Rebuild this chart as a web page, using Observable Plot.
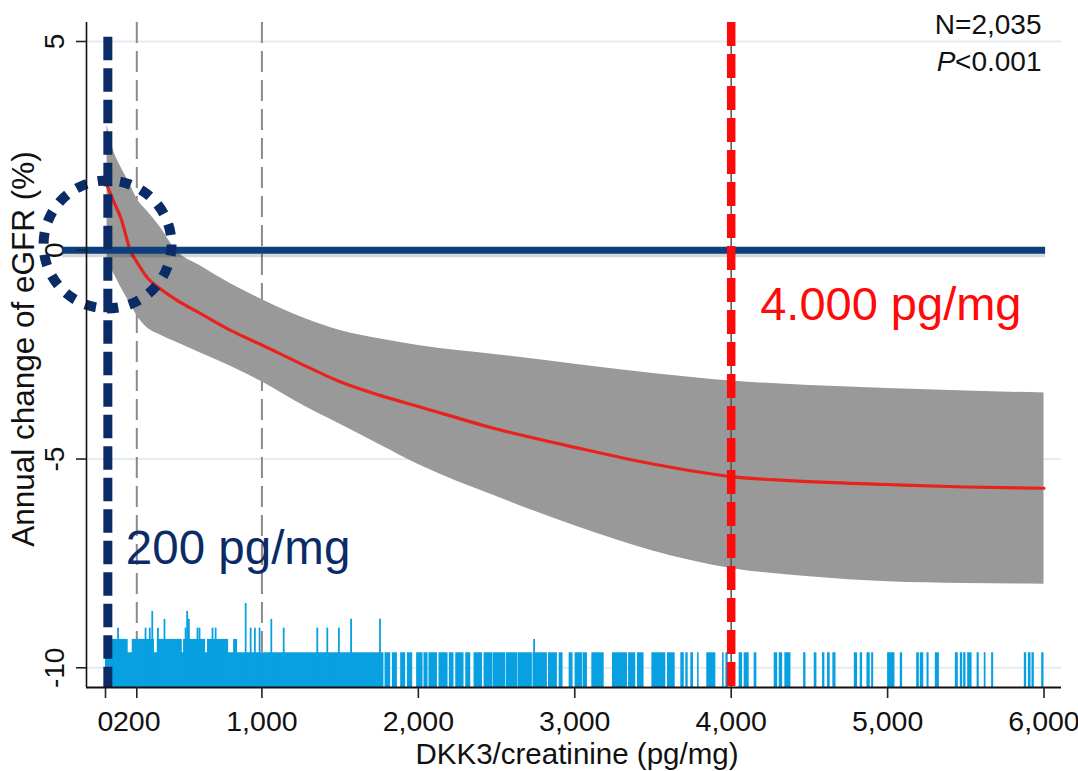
<!DOCTYPE html>
<html>
<head>
<meta charset="utf-8">
<script src="https://cdn.jsdelivr.net/npm/d3@7"></script>
<script src="https://cdn.jsdelivr.net/npm/@observablehq/plot@0.6"></script>
<style>
  html, body { margin: 0; padding: 0; background: #fff; }
  #chart svg { display: block; }
</style>
</head>
<body>
<div id="chart"></div>
<script>
// Restricted cubic spline: annual eGFR change (%) by urinary DKK3/creatinine (pg/mg)
const dkk3 = [10, 50, 100, 160, 200, 270, 350, 450, 600, 800, 1000, 1250, 1500, 1750, 2000, 2500, 3000, 3500, 4000, 4500, 5000, 5500, 6000];
const egfrChange = [1.55, 1.19, 0.75, -0.02, -0.28, -0.67, -0.92, -1.18, -1.50, -1.92, -2.27, -2.72, -3.15, -3.47, -3.74, -4.28, -4.72, -5.12, -5.42, -5.54, -5.61, -5.67, -5.70];
const ciUpper = [3.0, 2.4, 1.98, 1.55, 1.24, 0.92, 0.55, 0.0, -0.36, -0.80, -1.18, -1.60, -1.92, -2.12, -2.28, -2.50, -2.73, -2.95, -3.13, -3.24, -3.31, -3.37, -3.42];
const ciLower = [-0.25, -0.53, -0.90, -1.30, -1.56, -1.87, -2.03, -2.20, -2.45, -2.78, -3.15, -3.69, -4.17, -4.65, -5.13, -5.90, -6.60, -7.20, -7.62, -7.82, -7.94, -7.98, -8.00];

// Rug of individual DKK3/creatinine values: runs where ticks merge, second row, taller stacks
const rugRuns = [[0,1780],[1787,1823],[1834,1866],[1887,1919],[1930,1964],[1989,2030],[2036,2062],[2068,2122],[2132,2190],[2198,2228],[2239,2292],[2303,2335],[2356,2410],[2420,2474],[2477,2559],[2563,2634],[2637,2729],[2733,2825],[2832,2889],[2900,2925],[2964,2989],[3002,3049],[3053,3081],[3109,3188],[3241,3337],[3344,3390],[3401,3443],[3493,3582],[3593,3642],[3678,3700],[3710,3725],[3742,3759],[3785,3795],[3844,3902],[3945,3955],[3966,3981],[4051,4073],[4083,4115],[4147,4164],[4275,4297],[4307,4329],[4343,4382],[4463,4478],[4531,4548],[4584,4599],[4616,4633],[4650,4670],[4787,4808],[4825,4840],[4868,4889],[4898,4911],[5000,5047],[5081,5096],[5186,5203],[5209,5231],[5252,5265],[5305,5331],[5433,5452],[5465,5480],[5486,5501],[5512,5540],[5572,5586],[5618,5629],[5665,5678],[5874,5889],[5900,5917],[5923,5938],[5985,6000]];
const rugRow2 = [[0,145],[171,313],[331,491],[499,640],[652,787],[819,844]];
const rugStacks = [[80,-9.05],[256,-9.05],[283,-9.05],[299,-8.65],[335,-9.05],[377,-8.84],[512,-9.05],[522,-8.65],[533,-8.84],[588,-9.05],[601,-9.05],[684,-9.05],[704,-9.05],[896,-8.46],[928,-9.05],[955,-9.05],[985,-9.05],[1060,-8.84],[1139,-9.05],[1354,-9.05],[1418,-9.05],[1492,-9.05],[1570,-8.84],[1755,-8.84],[2740,-9.32]];
const rugTop = -9.64, rugRow2Top = -9.32;

// Axes
const xTicks = [0, 200, 1000, 2000, 3000, 4000, 5000, 6000];
const yTicks = [5, 0, -5, -10];
const gridY = [5, -5, -10];
const refLinesX = [200, 1000];

// Highlighted cut-offs
const lowCut = 15, lowCutLabel = "200 pg/mg";
const highCut = 4000, highCutLabel = "4.000 pg/mg";
const nText = "N=2,035", pItalic = "P", pText = "<0.001";

const xDomain = [-121.5, 6111.7];
const yDomain = [-10.472, 5.455];
const font = "'Liberation Sans', Arial, Helvetica, sans-serif";

const curve = dkk3.map((x, i) => ({x, est: egfrChange[i], lo: ciLower[i], hi: ciUpper[i]}));
const runs = rugRuns.map(([x1, x2]) => ({x1, x2, y1: yDomain[0], y2: rugTop}));
const row2 = rugRow2.map(([x1, x2]) => ({x1, x2, y1: yDomain[0], y2: rugRow2Top}));
const stacks = rugStacks.map(([x, top]) => ({x, y1: yDomain[0], y2: top}));

const navy = "#0b2b66", blue = "#0b3f7d", red = "#ff0a0a", rugBlue = "#08a0e0";

const chart = Plot.plot({
  width: 1078,
  height: 771,
  marginLeft: 86,
  marginRight: 17,
  marginTop: 22,
  marginBottom: 84,
  x: {domain: xDomain, axis: null},
  y: {domain: yDomain, axis: null},
  style: {fontFamily: font, background: "#fff", overflow: "visible", color: "#111"},
  marks: [
    Plot.ruleY(gridY, {stroke: "#e3ecef", strokeWidth: 2}),
    Plot.ruleX(refLinesX, {stroke: "#8a8a8a", strokeWidth: 2, strokeDasharray: "21,8", y1: yDomain[1], y2: yDomain[0]}),
    Plot.areaY(curve, {x: "x", y1: "lo", y2: "hi", fill: "#999999", curve: "monotone-x"}),
    Plot.rect(runs, {x1: "x1", x2: "x2", y1: "y1", y2: "y2", fill: rugBlue}),
    Plot.rect(row2, {x1: "x1", x2: "x2", y1: "y1", y2: "y2", fill: rugBlue}),
    Plot.ruleX(stacks, {x: "x", y1: "y1", y2: "y2", stroke: rugBlue, strokeWidth: 1.8}),
    Plot.line(curve, {x: "x", y: "est", stroke: "#e8231d", strokeWidth: 3.2, curve: "monotone-x"}),
    // y tick labels (drawn beneath the reference line at zero)
    Plot.text(yTicks, {y: d => d, frameAnchor: "left", text: d => String(d), rotate: -90, dx: -23, lineAnchor: "bottom", textAnchor: "middle", fontSize: 28, fill: "#111"}),
    // zero line with a soft shadow
    Plot.ruleY([0], {x1: -275, x2: 6010, stroke: "#000", strokeOpacity: 0.15, strokeWidth: 8, dy: 3}),
    Plot.ruleY([0], {x1: -275, x2: 6010, stroke: blue, strokeWidth: 7}),
    Plot.ruleX([lowCut], {y1: 5.1, y2: yDomain[0], stroke: navy, strokeWidth: 9, strokeDasharray: "23.5,8"}),
    Plot.dot([{x: 13, y: 0.14}], {x: "x", y: "y", r: 64, fill: "none", stroke: navy, strokeWidth: 10, strokeDasharray: "11.2,11.2"}),
    Plot.ruleX([highCut], {y1: yDomain[1], y2: yDomain[0], stroke: "#555", strokeWidth: 1.5}),
    Plot.ruleX([highCut], {y1: yDomain[1], y2: yDomain[0], stroke: red, strokeWidth: 8.5, strokeDasharray: "24,8"}),
    // axis lines and ticks
    Plot.ruleX([xDomain[0]], {stroke: "#111", strokeWidth: 1.6}),
    Plot.ruleY([yDomain[0]], {stroke: "#111", strokeWidth: 2}),
    Plot.axisX(xTicks, {tickSize: 11, fill: "none", stroke: "#222", strokeWidth: 1.6, label: null}),
    Plot.axisY(yTicks, {tickSize: 10, fill: "none", stroke: "#222", strokeWidth: 1.6, label: null}),
    Plot.text(xTicks, {x: d => d, frameAnchor: "bottom", dy: 43, lineAnchor: "bottom", textAnchor: "middle", text: d => d3.format(",")(d), fontSize: 28.5, fill: "#111"}),
    Plot.text(["DKK3/creatinine (pg/mg)"], {frameAnchor: "bottom", dx: 3, dy: 76, lineAnchor: "bottom", textAnchor: "middle", fontSize: 29.5, fill: "#111"}),
    Plot.text(["Annual change of eGFR (%)"], {frameAnchor: "left", rotate: -90, dx: -53, dy: -6, lineAnchor: "bottom", textAnchor: "middle", fontSize: 31.5, fill: "#111"}),
    // statistics
    Plot.text([nText], {frameAnchor: "top-right", dx: -20, dy: 11, lineAnchor: "bottom", textAnchor: "end", fontSize: 28, fill: "#111"}),
    Plot.text([pText], {frameAnchor: "top-right", dx: -20, dy: 48, lineAnchor: "bottom", textAnchor: "end", fontSize: 28, fill: "#111"}),
    Plot.text([pItalic], {frameAnchor: "top-right", dx: -106, dy: 48, lineAnchor: "bottom", textAnchor: "end", fontSize: 28, fontStyle: "italic", fill: "#111"}),
    // cut-off labels
    Plot.text([{x: highCut, label: highCutLabel}], {x: "x", text: "label", frameAnchor: "top", dx: 29, dy: 297, textAnchor: "start", lineAnchor: "bottom", fontSize: 47, fill: red}),
    Plot.text([{x: lowCut, label: lowCutLabel}], {x: "x", text: "label", frameAnchor: "top", dx: 18, dy: 541, textAnchor: "start", lineAnchor: "bottom", fontSize: 47.5, fill: navy})
  ]
});
document.getElementById("chart").appendChild(chart);
</script>
</body>
</html>
